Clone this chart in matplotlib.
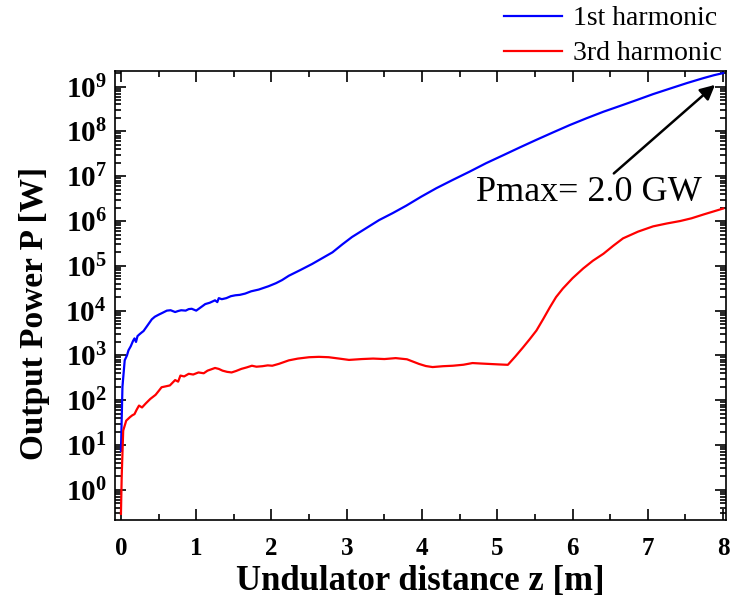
import numpy as np
import matplotlib
matplotlib.use('Agg')
import matplotlib.pyplot as plt
from matplotlib.ticker import FixedLocator, LogLocator, FuncFormatter, MultipleLocator

plt.rcParams['font.family'] = ['Liberation Serif', 'DejaVu Serif']
plt.rcParams['mathtext.fontset'] = 'custom'
plt.rcParams['mathtext.rm'] = 'Liberation Serif'
plt.rcParams['mathtext.bf'] = 'Liberation Serif:bold'

# 1st harmonic
z1 = [0.0, 0.02, 0.05, 0.08, 0.10, 0.13, 0.16, 0.18, 0.20, 0.22, 0.25, 0.28,
      0.30, 0.35, 0.41, 0.45, 0.50, 0.55, 0.61, 0.66, 0.72, 0.76, 0.80, 0.86,
      0.90, 0.94, 1.00, 1.05, 1.12, 1.18, 1.25, 1.28, 1.30, 1.34, 1.40, 1.46,
      1.52, 1.58, 1.65, 1.73, 1.83, 1.96, 2.06, 2.14, 2.23, 2.38, 2.54, 2.68,
      2.81, 2.94, 3.07, 3.25, 3.43, 3.61, 3.79, 3.99, 4.19, 4.41, 4.63, 4.85,
      5.08, 5.30, 5.52, 5.74, 5.96, 6.18, 6.41, 6.63, 6.85, 7.07, 7.30, 7.52,
      7.74, 7.88, 8.00]
p1 = [7.4, 2.0e2, 7.8e2, 1.0e3, 1.3e3, 1.6e3, 2.1e3, 2.4e3, 2.0e3, 2.7e3, 3.0e3, 3.3e3,
      3.5e3, 4.6e3, 6.4e3, 7.3e3, 8.1e3, 8.9e3, 1.0e4, 1.02e4, 9.3e3, 9.8e3, 1.02e4, 1.0e4,
      1.08e4, 1.1e4, 1.0e4, 1.15e4, 1.4e4, 1.5e4, 1.7e4, 1.55e4, 1.9e4, 1.8e4, 1.9e4, 2.1e4,
      2.2e4, 2.25e4, 2.4e4, 2.7e4, 2.95e4, 3.5e4, 4.1e4, 4.8e4, 6.0e4, 8.0e4, 1.1e5, 1.5e5,
      2.0e5, 3.0e5, 4.4e5, 6.8e5, 1.05e6, 1.5e6, 2.2e6, 3.5e6, 5.4e6, 8.3e6, 1.26e7, 1.95e7,
      2.95e7, 4.4e7, 6.5e7, 9.5e7, 1.38e8, 1.95e8, 2.75e8, 3.7e8, 5.0e8, 6.8e8, 9.1e8, 1.2e9,
      1.55e9, 1.8e9, 2.0e9]

# 3rd harmonic
z3 = [0.0, 0.01, 0.03, 0.07, 0.12, 0.15, 0.18, 0.21, 0.24, 0.28, 0.33, 0.39,
      0.46, 0.50, 0.54, 0.60, 0.65, 0.72, 0.76, 0.79, 0.84, 0.90, 0.96, 1.03,
      1.10, 1.15, 1.25, 1.30, 1.35, 1.41, 1.47, 1.53, 1.60, 1.67, 1.74, 1.80,
      1.88, 1.95, 2.01, 2.10, 2.23, 2.35, 2.50, 2.63, 2.76, 2.90, 3.03, 3.20,
      3.35, 3.50, 3.65, 3.80, 3.96, 4.05, 4.14, 4.28, 4.41, 4.55, 4.67, 4.78,
      4.89, 5.02, 5.14, 5.24, 5.34, 5.43, 5.52, 5.61, 5.70, 5.78, 5.87, 6.00,
      6.14, 6.27, 6.41, 6.54, 6.67, 6.87, 7.07, 7.25, 7.43, 7.58, 7.74, 7.88,
      8.00]
p3 = [0.29, 2.0, 21, 35, 42, 46, 49, 62, 76, 69, 85, 107,
      132, 160, 195, 205, 214, 282, 260, 355, 340, 389, 375, 417,
      400, 457, 525, 500, 457, 430, 417, 450, 501, 540, 589, 560,
      575, 600, 589, 650, 776, 850, 912, 930, 912, 850, 794, 830,
      851, 830, 871, 820, 646, 580, 550, 575, 589, 620, 676, 660,
      646, 630, 617, 950, 1.5e3, 2.3e3, 3.6e3, 6.5e3, 1.2e4, 2.0e4, 3.1e4, 5.3e4,
      8.7e4, 1.3e5, 1.86e5, 2.8e5, 4.1e5, 5.8e5, 7.6e5, 8.8e5, 1.0e6, 1.15e6, 1.4e6, 1.65e6,
      1.9e6]

fig = plt.figure(figsize=(7.32, 6.01), dpi=100)
ax = fig.add_axes([0.157, 0.135, 0.835, 0.747])

l1, = ax.plot(z1, p1, color='#0000ff', lw=1.6, label='1st harmonic')
l3, = ax.plot(z3, p3, color='#ff0000', lw=1.6, label='3rd harmonic')

ax.set_yscale('log')
ax.set_xlim(-0.08, 8.04)
ax.set_ylim(10**-0.67, 10**9.35)

ax.xaxis.set_major_locator(MultipleLocator(1))
ax.xaxis.set_minor_locator(MultipleLocator(0.5))
ax.yaxis.set_major_locator(FixedLocator([10.0**k for k in range(0, 10)]))
ax.yaxis.set_minor_locator(LogLocator(base=10, subs=np.arange(2, 10), numticks=20))
ax.yaxis.set_major_formatter(FuncFormatter(lambda v, pos: r'$\mathbf{10^{%d}}$' % round(np.log10(v))))
ax.yaxis.set_minor_formatter(FuncFormatter(lambda v, pos: ''))

ax.tick_params(which='both', direction='in', top=True, right=True, width=1.2)
ax.tick_params(which='major', length=8)
ax.tick_params(which='minor', length=4.5)
ax.tick_params(axis='x', labelsize=18, pad=12)
ax.tick_params(axis='y', labelsize=21, pad=6)
for lab in ax.get_xticklabels():
    lab.set_fontweight('bold')
for s in ax.spines.values():
    s.set_linewidth(1.2)

ax.set_xlabel('Undulator distance z [m]', fontsize=25, fontweight='bold')
ax.set_ylabel('Output Power P [W]', fontsize=24, fontweight='bold')
ax.xaxis.set_label_coords(0.5, -0.1)
ax.yaxis.set_label_coords(-0.106, 0.46)

ax.annotate('', xy=(7.92, 1.2e9), xytext=(6.52, 1.05e7),
            arrowprops=dict(arrowstyle='-|>', color='black', lw=1.8, mutation_scale=22))
ax.text(7.72, 10**6.64, 'Pmax= 2.0 GW', fontsize=26, ha='right', va='center')

fig.legend(handles=[l1, l3], loc='upper right', bbox_to_anchor=(0.99, 0.995),
           frameon=False, fontsize=20, handlelength=2.1, labelspacing=0.35,
           handletextpad=0.4, borderaxespad=0.0, borderpad=0.1)

fig.savefig('out.png', dpi=100)
